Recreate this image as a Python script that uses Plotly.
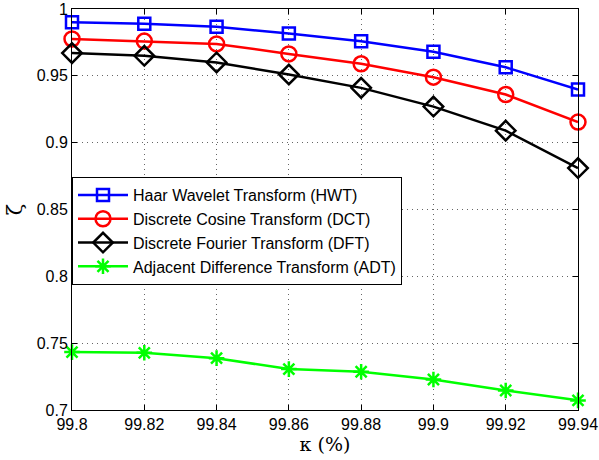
import plotly.graph_objects as go

kappa = [99.80, 99.82, 99.84, 99.86, 99.88, 99.90, 99.92, 99.94]
hwt = [0.990, 0.989, 0.9868, 0.9816, 0.9758, 0.968, 0.9564, 0.9398]
dct = [0.9776, 0.976, 0.9739, 0.9664, 0.959, 0.949, 0.936, 0.9154]
dft = [0.967, 0.965, 0.960, 0.951, 0.941, 0.927, 0.909, 0.881]
adt = [0.7433, 0.7428, 0.7388, 0.7306, 0.7286, 0.7228, 0.7146, 0.7072]
x_ticks = ["99.8", "99.82", "99.84", "99.86", "99.88", "99.9", "99.92", "99.94"]
y_tickvals = [0.7, 0.75, 0.8, 0.85, 0.9, 0.95, 1.0]
y_ticks = ["0.7", "0.75", "0.8", "0.85", "0.9", "0.95", "1"]

names = ["Haar Wavelet Transform (HWT)", "Discrete Cosine Transform (DCT)",
         "Discrete Fourier Transform (DFT)", "Adjacent Difference Transform (ADT)"]
colors = ["#0000ff", "#ff0000", "#000000", "#00ff00"]
symbols = ["square-open", "circle-open", "diamond-open", "asterisk-open"]
sizes = [12, 15, 15, 13]
series = [hwt, dct, dft, adt]

fig = go.Figure()
for n, c, s, sz, y in zip(names, colors, symbols, sizes, series):
    fig.add_trace(go.Scatter(
        x=kappa, y=y, name=n, mode="lines+markers",
        line=dict(color=c, width=2.5),
        marker=dict(symbol=s, size=sz, color=c, line=dict(color=c, width=2.5)),
        cliponaxis=False,
    ))

axis_common = dict(
    showline=True, linecolor="black", linewidth=1, mirror="ticks",
    ticks="inside", ticklen=5, tickcolor="black",
    showgrid=True, gridcolor="rgba(0,0,0,0.6)", griddash="1px,4px", gridwidth=1,
    zeroline=False, automargin=False, ticklabeloverflow="allow",
    tickfont=dict(family="Liberation Sans, Arial", size=16, color="black"),
)

fig.update_xaxes(range=[99.8 - 1e-9, 99.94 + 1e-9], tickvals=kappa, ticktext=x_ticks,
                 title=dict(text="κ (%)", font=dict(family="DejaVu Serif", size=19, color="black"), standoff=0),
                 **axis_common)
fig.update_yaxes(range=[0.7 - 1e-9, 1.0 + 1e-9], tickvals=y_tickvals, ticktext=y_ticks,
                 title=dict(text="ζ", font=dict(family="DejaVu Serif", size=21, color="black"), standoff=8),
                 **axis_common)

fig.update_layout(
    width=599, height=460,
    margin=dict(l=72, r=21, t=9, b=50),
    plot_bgcolor="white", paper_bgcolor="white",
    legend=dict(x=0.0, y=0.581, xanchor="left", yanchor="top",
                bgcolor="white", bordercolor="black", borderwidth=1,
                font=dict(family="Liberation Sans, Arial", size=16, color="black"),
                itemwidth=50, tracegroupgap=0),
)

fig.write_html("out.html")
